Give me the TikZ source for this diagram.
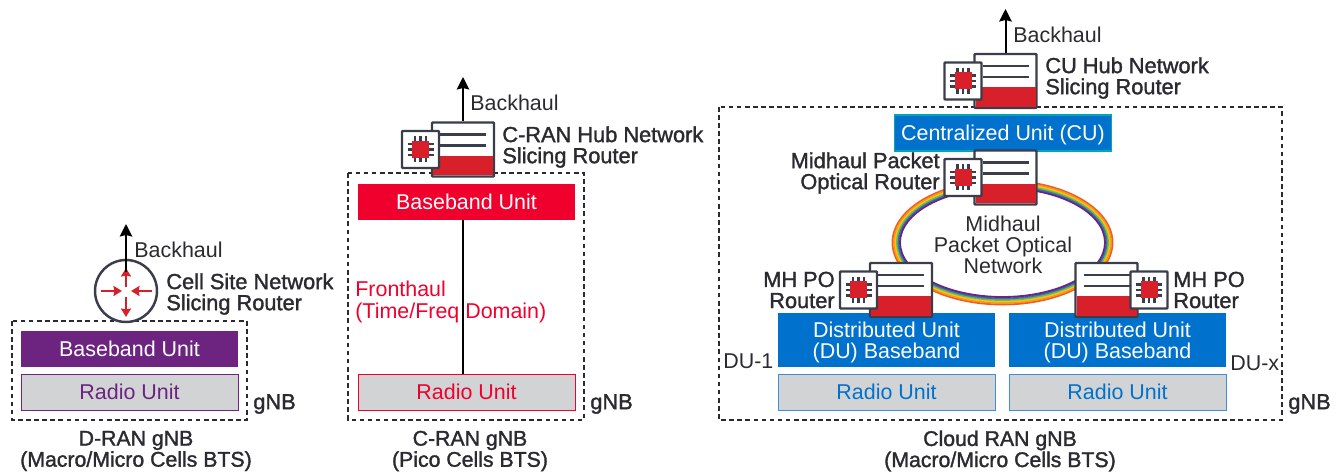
\documentclass[tikz,border=0pt]{standalone}
\usepackage{fontspec}
\setmainfont{Liberation Sans}
\newfontfamily\medfont[FakeBold=1.5]{Liberation Sans}
\usetikzlibrary{arrows.meta}

\definecolor{darkline}{HTML}{3A3D4A}
\definecolor{routerred}{HTML}{D7202A}
\definecolor{dranpurple}{HTML}{6C2480}
\definecolor{cranred}{HTML}{F0002D}
\definecolor{cloudblue}{HTML}{0072CE}
\definecolor{cuteal}{HTML}{00A7B5}
\definecolor{rublue}{HTML}{3D8FDD}
\definecolor{rugray}{HTML}{D1D3D4}
\definecolor{textdark}{HTML}{2A2A30}

\tikzset{
	unitbox/.style={rectangle, minimum width=4.34cm, minimum height=0.72cm, inner sep=0, line width=0.45pt, align=center, text height=9pt, text depth=1pt, font=\fontsize{12.2}{12}\selectfont},
	dubox/.style={unitbox, minimum height=1.08cm, text height=, text depth=0pt, fill=cloudblue, text=white},
	gnbbox/.style={draw=textdark, line width=0.6pt, dash pattern=on 2.6pt off 2pt},
	plainlabel/.style={inner sep=0, text=textdark, align=center, font=\fontsize{12.2}{12}\selectfont},
	routerlabel/.style={inner sep=0, text=textdark, align=left, font=\medfont\fontsize{12.4}{12}\selectfont},
	caption/.style={routerlabel, align=center, font=\medfont\fontsize{12.1}{12}\selectfont},
	backhaul/.style={-{Stealth[length=0.25cm, width=0.25cm, inset=0.03cm]}, line width=1.15pt, black},
	redarrow/.style={-{Stealth[length=0.17cm, width=0.2cm, inset=0.02cm]}, line width=1.6pt, routerred},
	routerbox/.style={rectangle, draw=darkline, fill=white, line width=1.4pt, rounded corners=0.5pt, minimum width=1.24cm, minimum height=1.08cm, inner sep=0},
	pics/hubrouter/.style={code={
		\node[routerbox] (-box) at (0,0) {};
		\fill[routerred] (-30,6.5) rectangle (30,26);
		\draw[darkline, line width=1.7pt] (-23,-15) -- (23,-15) (-23,-4) -- (23,-4);
		\node[routerbox, minimum width=0.74cm, minimum height=0.74cm] (-chip) at (-42.5,0) {};
		\fill[routerred] (-51,-8.5) rectangle (-34,8.5);
		\foreach \p in {-5.5,0,5.5} {
			\draw[darkline, line width=1.4pt] (-55.5,\p) -- (-51,\p) (-34,\p) -- (-29.5,\p);
			\draw[darkline, line width=1.4pt] (-42.5+\p,-13) -- (-42.5+\p,-8.5) (-42.5+\p,8.5) -- (-42.5+\p,13);
		}
	}}
}

\begin{document}
\begin{tikzpicture}[x=0.02cm, y=-0.02cm]
	\useasboundingbox (0,0) rectangle (1339,476);
	
	%gnb boxes
	\draw[gnbbox] (12,321) rectangle (247,420);
	\draw[gnbbox] (348,173) rectangle (584,420);
	\draw[gnbbox] (719,107) rectangle (1282,420);
	
	%units
	\node[unitbox, fill=dranpurple, text=white] (dranbb) at (129.5,349) {Baseband Unit};
	\node[unitbox, fill=rugray, draw=dranpurple, text=dranpurple] (dranru) at (129.5,392) {Radio Unit};
	\node[unitbox, fill=cranred, text=white] (cranbb) at (466.5,202) {Baseband Unit};
	\node[unitbox, fill=rugray, draw=cranred, text=cranred] (cranru) at (466.5,392) {Radio Unit};
	\node[unitbox, fill=cloudblue, draw=cuteal, line width=0.8pt, text=white] (cu) at (1003,133) {Centralized Unit (CU)};
	\node[dubox] (duone) at (886.5,340) {Distributed Unit\\(DU) Baseband};
	\node[dubox] (dux) at (1117.5,340) {Distributed Unit\\(DU) Baseband};
	\node[unitbox, fill=rugray, draw=rublue, text=cloudblue] (ruone) at (886.5,392) {Radio Unit};
	\node[unitbox, fill=rugray, draw=rublue, text=cloudblue] (rux) at (1117.5,392) {Radio Unit};
	
	%rainbow ring
	\def\ringx{1002.5}
	\def\ringy{242.5}
	\foreach \i/\c in {0/F15A29,1.5/F7941D,3/FDC010,4.5/6DBE45,6/2E75B6,7.5/6C2480} {
		\definecolor{ringcolor}{HTML}{\c}
		\draw[ringcolor, line width=1.05pt] (\ringx,\ringy) ellipse [x radius=110-\i, y radius=62-\i];
	}
	\node[plainlabel] (midhaul) at (1003,245) {Midhaul\\Packet Optical\\Network};
	
	%routers
	\node[circle, draw=darkline, fill=white, line width=1.4pt, minimum size=1.24cm, inner sep=0] (csrouter) at (126,291) {};
	\begin{scope}[shift={(126,291)}]
		\draw[redarrow] (0,-4) -- (0,-23);
		\draw[redarrow] (0,6) -- (0,26);
		\draw[redarrow] (-25,0) -- (-4,0);
		\draw[redarrow] (26,0) -- (5,0);
	\end{scope}
	\pic (cran) at (463,149.5) {hubrouter};
	\pic (cuhub) at (1005.5,81) {hubrouter};
	\pic (mhtop) at (1005.5,177.5) {hubrouter};
	\pic (mhleft) at (901,290) {hubrouter};
	\pic[xscale=-1] (mhright) at (1106.5,290) {hubrouter};
	
	%nets
	\coordinate (csin) at (126,272);
	\coordinate (csup) at (126,224);
	\coordinate (cranup) at (463,77);
	\coordinate (cuup) at (1005.5,9);
	\draw[backhaul] (csin) -- (csup);
	\draw[backhaul] (cran-box) -- (cranup);
	\draw[backhaul] (cuhub-box) -- (cuup);
	\draw[line width=1pt, black] (cran-box |- cranbb.south) -- (cran-box |- cranru.north);
	
	%labels
	\node[plainlabel, anchor=west] (bhd) at (134,250) {Backhaul};
	\node[plainlabel, anchor=west] (bhc) at (470,103) {Backhaul};
	\node[plainlabel, anchor=west] (bhu) at (1013,35) {Backhaul};
	\node[routerlabel, anchor=west] (lblcs) at (166,294) {Cell Site Network\\Slicing Router};
	\node[routerlabel, anchor=west] (lblcran) at (502,147) {C-RAN Hub Network\\Slicing Router};
	\node[routerlabel, anchor=west] (lblcu) at (1045,78) {CU Hub Network\\Slicing Router};
	\node[routerlabel, anchor=east, align=right] (lblmh) at (940,173) {Midhaul Packet\\Optical Router};
	\node[routerlabel, anchor=east, align=right] (lblmhl) at (835,290) {MH PO\\Router};
	\node[routerlabel, anchor=west] (lblmhr) at (1173,290) {MH PO\\Router};
	\node[plainlabel, anchor=west, align=left, text=cranred] (fronthaul) at (355,302) {Fronthaul\\[1pt](Time/Freq Domain)};
	\node[plainlabel, anchor=west] (duonelbl) at (723,361) {DU-1};
	\node[plainlabel, anchor=west] (duxlbl) at (1230,363) {DU-x};
	\node[routerlabel, anchor=west] (gnbd) at (253,404) {gNB};
	\node[routerlabel, anchor=west] (gnbc) at (590,404) {gNB};
	\node[routerlabel, anchor=west] (gnbu) at (1288,404) {gNB};
	\node[caption] (capd) at (136,451) {D-RAN gNB\\(Macro/Micro Cells BTS)};
	\node[caption] (capc) at (470,451) {C-RAN gNB\\(Pico Cells BTS)};
	\node[caption] (capu) at (1000,451) {Cloud RAN gNB\\(Macro/Micro Cells BTS)};
\end{tikzpicture}
\end{document}
